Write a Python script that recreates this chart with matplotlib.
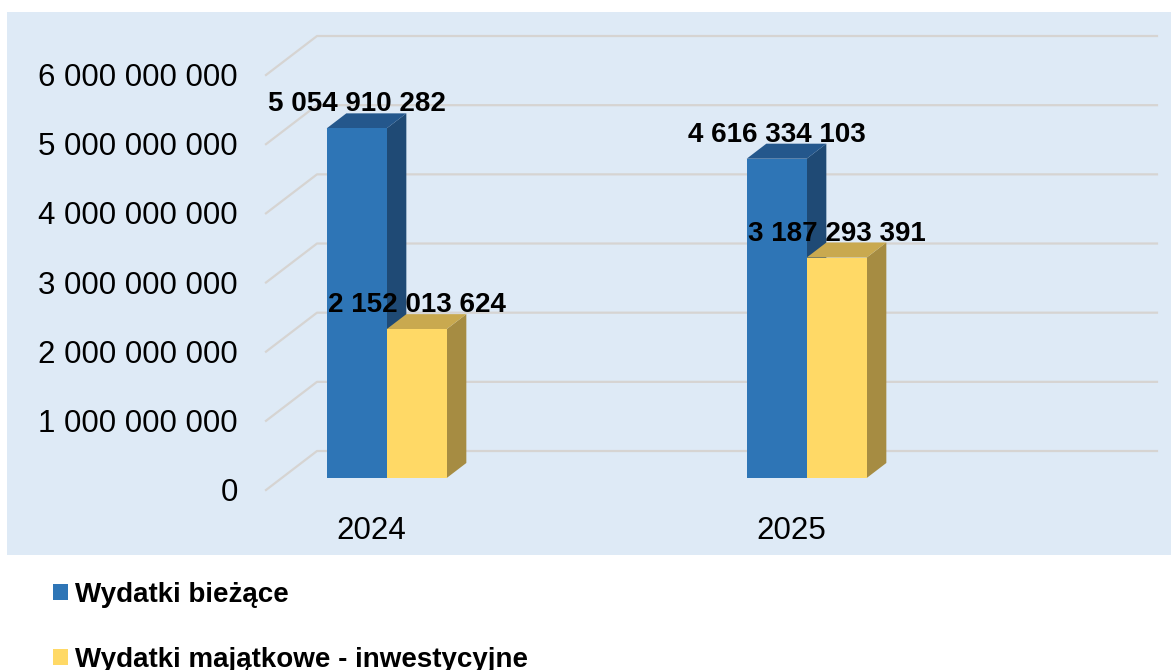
import matplotlib
matplotlib.use("Agg")
import matplotlib.pyplot as plt
from matplotlib.patches import Polygon, Rectangle, Patch

plt.rcParams['font.family'] = ['Liberation Sans', 'DejaVu Sans']

# dane
lata = ['2024', '2025']
serie = ['Wydatki bieżące', 'Wydatki majątkowe - inwestycyjne']
wydatki_biezace = [5054910282, 4616334103]
wydatki_majatkowe = [2152013624, 3187293391]
os_y = [0, 1e9, 2e9, 3e9, 4e9, 5e9, 6e9]

# kolory: przod, gora, bok
kolory = [('#2E75B6', '#24578C', '#1F4A75'),
          ('#FFD966', '#C9A94F', '#A68C42')]


def fmt(v):
    return f"{int(v):,}".replace(",", " ")


W, H = 1171, 670
fig = plt.figure(figsize=(W / 100, H / 100), dpi=100)
fig.add_artist(Rectangle((7 / W, (H - 555) / H), (W - 7) / W, (555 - 12) / H,
                         transform=fig.transFigure, facecolor='#DEEAF6',
                         edgecolor='none', zorder=0))

ax = fig.add_axes([281.7 / W, (H - 478) / H, 840 / W, 415 / H])
ax.set_xlim(-0.25, 1.75)
ax.set_ylim(0, 6e9)
ax.axis('off')

# skala piksela w jednostkach danych
sx = 2.0 / 840
sy = 6e9 / 415
dx, dy = 51 * sx, 39 * sy     # pelna glebokosc
f0 = 0.308                    # plaszczyzna przodu slupkow
fb = 0.385                    # glebokosc slupka
x0, x1 = ax.get_xlim()

# siatka
for v in os_y:
    xs = [x0 - f0 * dx, x0 + (1 - f0) * dx, x1 + (1 - f0) * dx]
    ys = [v - f0 * dy, v + (1 - f0) * dy, v + (1 - f0) * dy]
    ax.plot(xs, ys, color='#D6D4D2', lw=1.6, clip_on=False, zorder=1)
    ax.text(x0 - f0 * dx - 28 * sx, v - f0 * dy - 3 * sy, fmt(v), ha='right',
            va='center', fontsize=22.5, color='black')

for i, rok in enumerate(lata):
    ax.text(i - f0 * dx, -f0 * dy - 41 * sy, rok, ha='center', va='center',
            fontsize=22.5)

w = 60 / 420
z = 2
for i in range(len(lata)):
    for k, wart in enumerate([wydatki_biezace, wydatki_majatkowe]):
        v = wart[i]
        xl = i - w + k * w
        xr = xl + w
        front, top, side = kolory[k]
        bx, by = fb * dx, fb * dy
        ax.add_patch(Polygon([(xr, 0), (xr + bx, by), (xr + bx, v + by), (xr, v)],
                             closed=True, facecolor=side, edgecolor='none',
                             clip_on=False, zorder=z))
        ax.add_patch(Polygon([(xl, v), (xr, v), (xr + bx, v + by), (xl + bx, v + by)],
                             closed=True, facecolor=top, edgecolor='none',
                             clip_on=False, zorder=z))
        ax.bar(xl + w / 2, v, width=w, color=front, edgecolor='none',
               zorder=z + 0.5, clip_on=False)
        z += 1

for i in range(len(lata)):
    for k, wart in enumerate([wydatki_biezace, wydatki_majatkowe]):
        xc = i - w / 2 + k * w
        ax.text(xc, wart[i] + 17 * sy, fmt(wart[i]), ha='center', va='baseline',
                fontsize=20, fontweight='bold', zorder=20)

uchwyty = [Patch(facecolor=kolory[0][0], edgecolor='none'),
           Patch(facecolor=kolory[1][0], edgecolor='none')]
fig.legend(uchwyty, serie, loc='upper left', bbox_to_anchor=(53 / W, 1 - 582 / H),
           frameon=False, prop=dict(size=20, weight='bold'),
           handlelength=0.54, handleheight=0.54, handletextpad=0.25,
           labelspacing=1.40, borderaxespad=0, borderpad=0)

fig.savefig('out.png', dpi=100)
